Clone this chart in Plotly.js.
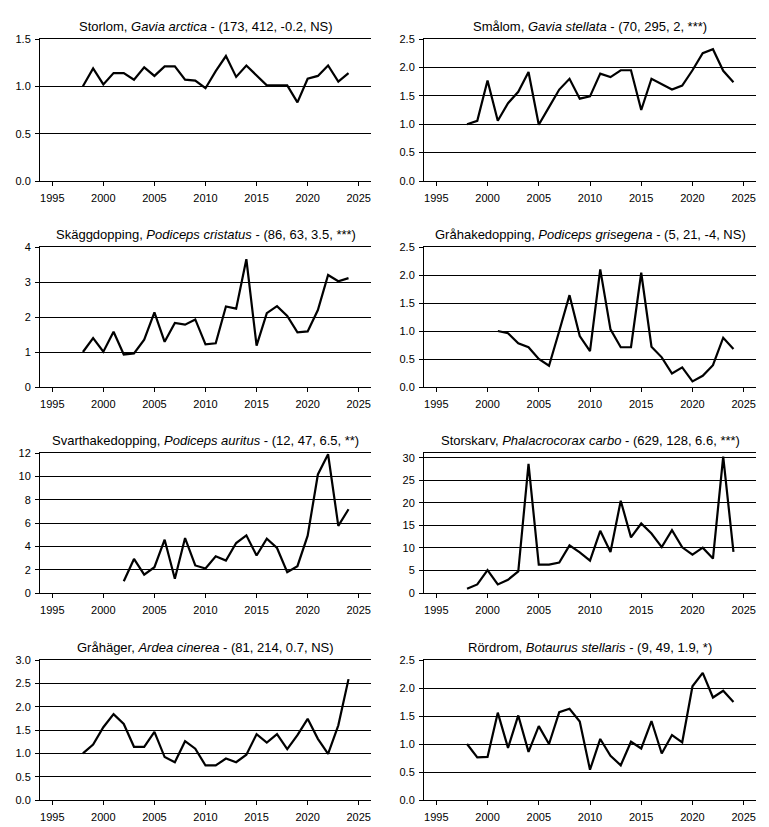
<!DOCTYPE html>
<html>
<head>
<meta charset="utf-8">
<script src="https://cdn.plot.ly/plotly-3.0.1.min.js"></script>
<style>html,body{margin:0;padding:0;background:#fff;}#chart{width:769px;height:827px;}</style>
</head>
<body>
<div id="chart"></div>
<script>
// Years
const yearsFrom1998 = [1998,1999,2000,2001,2002,2003,2004,2005,2006,2007,2008,2009,2010,2011,2012,2013,2014,2015,2016,2017,2018,2019,2020,2021,2022,2023,2024];
const yearsFrom2001 = [2001,2002,2003,2004,2005,2006,2007,2008,2009,2010,2011,2012,2013,2014,2015,2016,2017,2018,2019,2020,2021,2022,2023,2024];
const yearsFrom2002 = [2002,2003,2004,2005,2006,2007,2008,2009,2010,2011,2012,2013,2014,2015,2016,2017,2018,2019,2020,2021,2022,2023,2024];

// Series values (index, first year = 1)
const storlom = [1.0,1.19,1.02,1.14,1.14,1.07,1.20,1.11,1.21,1.21,1.07,1.06,0.98,1.16,1.32,1.10,1.22,1.12,1.01,1.01,1.01,0.83,1.08,1.11,1.22,1.05,1.14];
const smalom = [1.0,1.06,1.77,1.06,1.37,1.57,1.92,0.99,1.30,1.61,1.80,1.45,1.49,1.89,1.83,1.95,1.95,1.25,1.80,1.70,1.61,1.68,1.95,2.25,2.32,1.94,1.74];
const skaggdopping = [1.0,1.40,1.01,1.58,0.93,0.96,1.35,2.13,1.29,1.83,1.78,1.93,1.22,1.25,2.30,2.24,3.65,1.18,2.11,2.31,2.03,1.56,1.59,2.20,3.20,3.02,3.11];
const grahakedopping = [1.0,0.96,0.78,0.71,0.50,0.38,1.0,1.64,0.91,0.64,2.10,1.03,0.71,0.71,2.04,0.72,0.53,0.24,0.35,0.10,0.20,0.39,0.88,0.68];
const svarthakedopping = [1.0,2.92,1.58,2.21,4.57,1.22,4.71,2.36,2.10,3.15,2.78,4.28,4.94,3.21,4.65,3.86,1.79,2.30,4.91,10.16,11.89,5.76,7.18];
const storskarv = [0.96,1.91,5.07,1.91,2.94,4.78,28.7,6.32,6.32,6.76,10.59,9.04,7.21,13.82,9.12,20.5,12.35,15.44,13.2,10.2,13.97,10.15,8.53,10.07,7.65,30.3,9.12];
const grahager = [1.0,1.19,1.56,1.84,1.63,1.14,1.14,1.46,0.92,0.81,1.26,1.10,0.74,0.74,0.89,0.81,0.97,1.41,1.23,1.41,1.09,1.39,1.74,1.31,0.99,1.60,2.59];
const rordrom = [1.0,0.76,0.77,1.56,0.93,1.51,0.86,1.32,1.0,1.57,1.63,1.40,0.54,1.09,0.79,0.62,1.04,0.92,1.41,0.83,1.16,1.03,2.03,2.27,1.83,1.95,1.75];

// Panel titles
const titles = [
  "Storlom, <i>Gavia arctica</i> - (173, 412, -0.2, NS)",
  "Smålom, <i>Gavia stellata</i> - (70, 295, 2, ***)",
  "Skäggdopping, <i>Podiceps cristatus</i> - (86, 63, 3.5, ***)",
  "Gråhakedopping, <i>Podiceps grisegena</i> - (5, 21, -4, NS)",
  "Svarthakedopping, <i>Podiceps auritus</i> - (12, 47, 6.5, **)",
  "Storskarv, <i>Phalacrocorax carbo</i> - (629, 128, 6.6, ***)",
  "Gråhäger, <i>Ardea cinerea</i> - (81, 214, 0.7, NS)",
  "Rördrom, <i>Botaurus stellaris</i> - (9, 49, 1.9, *)"
];
const xTickVals = [1995,2000,2005,2010,2015,2020,2025];
const yTopValues = [1.5, 2.5, 4, 2.5, 12, 31.1, 3.0, 2.5];
const yTickSteps = [0.5, 0.5, 1, 0.5, 2, 5, 0.5, 0.5];

const panelX = [yearsFrom1998, yearsFrom1998, yearsFrom1998, yearsFrom2001, yearsFrom2002, yearsFrom1998, yearsFrom1998, yearsFrom1998];
const panelY = [storlom, smalom, skaggdopping, grahakedopping, svarthakedopping, storskarv, grahager, rordrom];

const W = 769, H = 827;
const colX = [[40/W, 371/W], [424/W, 756/W]];
const rowY = [[39,181],[247,387],[453,593],[660,800]].map(r => [1 - r[1]/H, 1 - r[0]/H]);

const font = "Liberation Sans, Arial, sans-serif";
const traces = [];
const layout = {
  width: W, height: H,
  margin: {l:0, r:0, t:0, b:0},
  paper_bgcolor: "#fff", plot_bgcolor: "#fff",
  showlegend: false,
  font: {family: font, color: "#000"},
  annotations: []
};

for (let i = 0; i < 8; i++) {
  const col = i % 2, row = Math.floor(i / 2);
  const n = i + 1;
  const xa = n === 1 ? "xaxis" : "xaxis" + n;
  const ya = n === 1 ? "yaxis" : "yaxis" + n;
  traces.push({
    x: panelX[i], y: panelY[i], type: "scatter", mode: "lines",
    line: {color: "#000", width: 2.2},
    xaxis: "x" + (n === 1 ? "" : n), yaxis: "y" + (n === 1 ? "" : n),
    hoverinfo: "x+y"
  });
  layout[xa] = {
    domain: colX[col], anchor: "y" + (n === 1 ? "" : n),
    range: [1993.8, 2026.2], tickvals: xTickVals,
    ticks: "outside", ticklen: 4, tickwidth: 1, tickcolor: "#000",
    showgrid: false, zeroline: false,
    showline: true, mirror: true, linecolor: "#000", linewidth: 1,
    tickfont: {size: 11, family: font, color: "#000"}, ticklabelstandoff: 3
  };
  layout[ya] = {
    domain: rowY[row], anchor: "x" + (n === 1 ? "" : n),
    range: [0, yTopValues[i]], dtick: yTickSteps[i], tick0: 0,
    tickformat: yTickSteps[i] < 1 ? ".1f" : "d",
    ticks: "outside", ticklen: 4, tickwidth: 1, tickcolor: "#000",
    showgrid: true, gridcolor: "#000", gridwidth: 1,
    zeroline: false, showline: true, linecolor: "#000", linewidth: 1,
    tickfont: {size: 11, family: font, color: "#000"}, ticklabelstandoff: 2
  };
  layout.annotations.push({
    text: titles[i], xref: "paper", yref: "paper",
    x: (colX[col][0] + colX[col][1]) / 2, y: rowY[row][1] + 13/H,
    xanchor: "center", yanchor: "middle", showarrow: false,
    font: {size: 13, family: font, color: "#000"}
  });
}

Plotly.newPlot("chart", traces, layout, {staticPlot: true, displayModeBar: false});
</script>
</body>
</html>
